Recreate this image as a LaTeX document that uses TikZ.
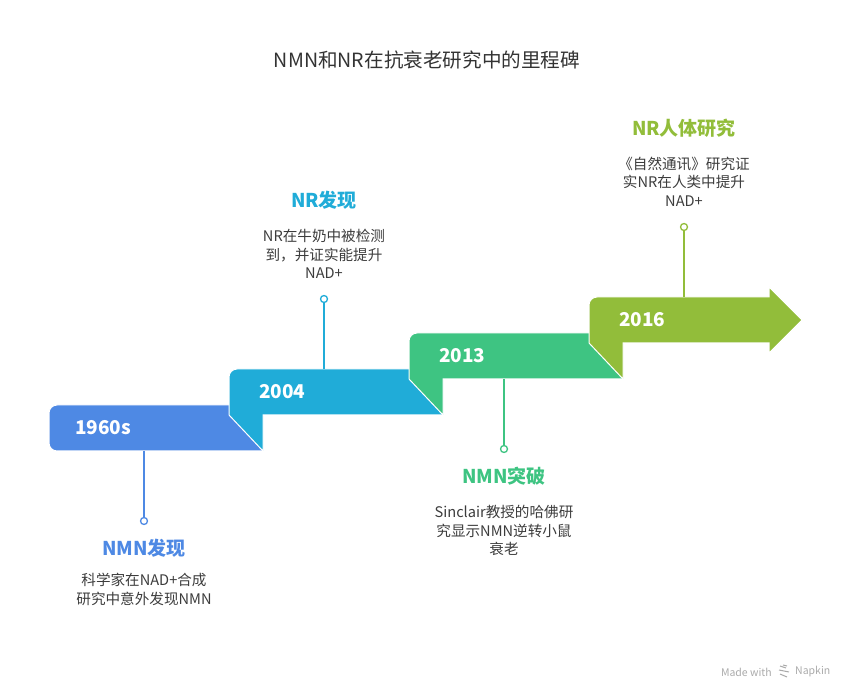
\documentclass[tikz,border=0pt]{standalone}
\usepackage{fontspec}
\setmainfont{Noto Sans CJK SC}
\usetikzlibrary{positioning}
\definecolor{nmnblue}{RGB}{78,137,228}
\definecolor{nrcyan}{RGB}{32,172,216}
\definecolor{brkgreen}{RGB}{62,196,130}
\definecolor{humlime}{RGB}{146,189,58}
\definecolor{bodygray}{RGB}{60,60,60}
\definecolor{markgray}{RGB}{170,170,170}

\begin{document}
\begin{tikzpicture}[x=1pt,y=-1pt,
every node/.style={inner sep=0},
yearlabel/.style={anchor=west,text=white,font=\bfseries\fontsize{19}{19}\selectfont},
headline/.style={font=\bfseries\fontsize{19}{22}\selectfont},
blurb/.style={align=center,text=bodygray,font=\fontsize{14.6}{18.5}\selectfont},
bar/.style={draw=white,line width=1pt},
dot/.style={circle,fill=white,line width=1.3pt,minimum size=7pt},
stem/.style={line width=1.7pt}]
\useasboundingbox (0,0) rectangle (852,700);

\node[text=black!80,font=\fontsize{19.6}{19.6}\selectfont] (title) at (427,60) {NMN和NR在抗衰老研究中的里程碑};

% bars, back to front
\fill[nmnblue,bar] (263,451) -- (263,405) -- (57,405) arc[start angle=270,end angle=180,radius=8]
  -- (49,443) arc[start angle=180,end angle=90,radius=8] -- cycle;
\filldraw[nrcyan,bar] (229,415) -- (263,451) -- (263,415) -- (443,415) -- (443,369)
  -- (237,369) arc[start angle=270,end angle=180,radius=8] -- cycle;
\filldraw[brkgreen,bar] (409,379) -- (443,415) -- (443,379) -- (623,379) -- (623,333)
  -- (417,333) arc[start angle=270,end angle=180,radius=8] -- cycle;
\filldraw[humlime,bar] (589,343) -- (623,379) -- (623,343) -- (769,343) -- (769,353)
  -- (802,320) -- (769,287) -- (769,297)
  -- (597,297) arc[start angle=270,end angle=180,radius=8] -- cycle;

\node[yearlabel] (y1) at (75,428) {1960s};
\node[yearlabel] (y2) at (259,392) {2004};
\node[yearlabel] (y3) at (439,356) {2013};
\node[yearlabel] (y4) at (619,320) {2016};

% stems
\coordinate (b1) at (144,451);
\coordinate (b2) at (324,369);
\coordinate (b3) at (504,379);
\coordinate (b4) at (684,297);
\node[dot,draw=nmnblue] (d1) at (144,521) {};
\node[dot,draw=nrcyan] (d2) at (324,299) {};
\node[dot,draw=brkgreen] (d3) at (504,449) {};
\node[dot,draw=humlime] (d4) at (684,227) {};
\draw[stem,nmnblue] (b1) -- (d1);
\draw[stem,nrcyan] (b2) -- (d2);
\draw[stem,brkgreen] (b3) -- (d3);
\draw[stem,humlime] (b4) -- (d4);

% milestones
\node[headline,text=nmnblue] (h1) at (144,548) {NMN发现};
\node[blurb] (t1) at (144,589.5) {科学家在NAD+合成\\研究中意外发现NMN};
\node[headline,text=nrcyan] (h2) at (324,200) {NR发现};
\node[blurb] (t2) at (324,254) {NR在牛奶中被检测\\到，并证实能提升\\NAD+};
\node[headline,text=brkgreen] (h3) at (504,476) {NMN突破};
\node[blurb] (t3) at (504,530.5) {Sinclair教授的哈佛研\\究显示NMN逆转小鼠\\衰老};
\node[headline,text=humlime] (h4) at (684,128) {NR人体研究};
\node[blurb] (t4) at (684,181.5) {《自然通讯》研究证\\实NR在人类中提升\\NAD+};

% footer mark
\node[anchor=east,text=markgray,font=\fontsize{10.5}{10.5}\selectfont] (made) at (772,672) {Made with};
\node[anchor=west,text=markgray,font=\fontsize{10.5}{10.5}\selectfont] (napkin) at (795,672) {Napkin};
\draw[markgray,line width=1pt] (780,666) -- (786,668) (779,670) -- (789,672) (780,674) -- (787,677)
  (783,665) -- (787,666);
\end{tikzpicture}
\end{document}
